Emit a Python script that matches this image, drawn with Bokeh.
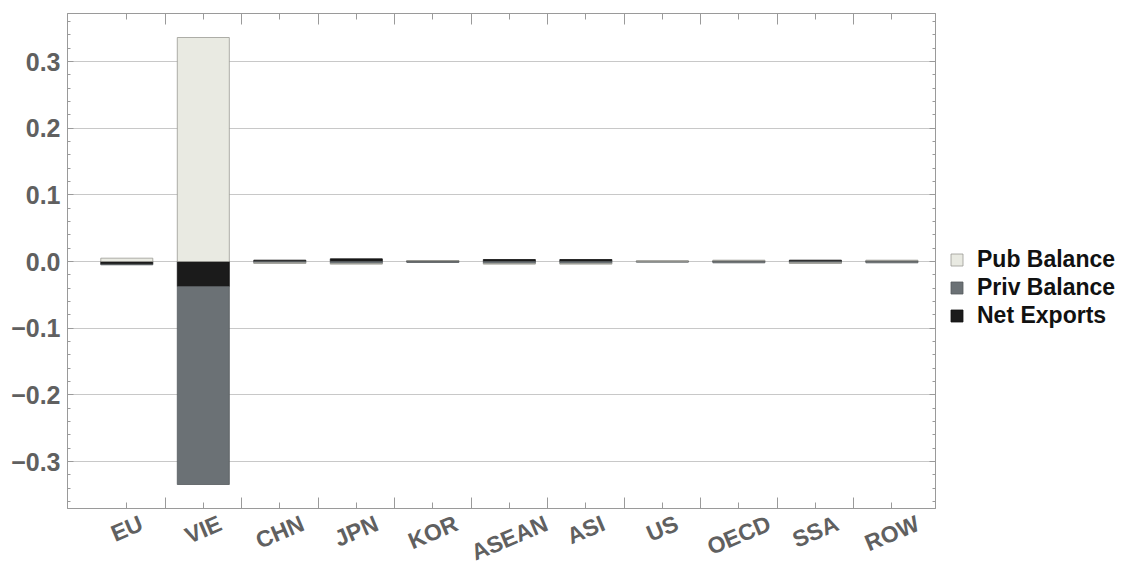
import math
from bokeh.plotting import figure
from bokeh.layouts import row, column
from bokeh.core.properties import value
from bokeh.models import (ColumnDataSource, FixedTicker, LinearAxis, Range1d,
                          CustomJSTickFormatter, Legend, LegendItem, SingleIntervalTicker)
from bokeh.embed import file_html
from bokeh.resources import INLINE

categories = ["EU", "VIE", "CHN", "JPN", "KOR", "ASEAN", "ASI", "US", "OECD", "SSA", "ROW"]
pub_balance = [0.005, 0.336, -0.001, -0.001, 0.0005, -0.001, -0.001, 0.0005, 0.001, -0.001, 0.001]
priv_balance = [-0.001, -0.297, -0.002, -0.003, -0.0015, -0.003, -0.003, -0.001, -0.002, -0.002, -0.002]
net_exports = [-0.004, -0.0375, 0.002, 0.004, 0.001, 0.003, 0.003, 0.0005, 0.001, 0.002, 0.001]

series = [("Net Exports", net_exports, "#1b1b1b", "#111111"),
          ("Priv Balance", priv_balance, "#6b7175", "#555a5d"),
          ("Pub Balance", pub_balance, "#e9eae2", "#9a9a94")]

xs = list(range(len(categories)))

# stacking: positives upward, negatives downward, from zero
pos_base = [0.0] * len(categories)
neg_base = [0.0] * len(categories)
stacks = {}
for name, vals, _, _ in series:
    tops, bottoms = [], []
    for i, v in enumerate(vals):
        if v >= 0:
            bottoms.append(pos_base[i]); tops.append(pos_base[i] + v); pos_base[i] += v
        else:
            tops.append(neg_base[i]); bottoms.append(neg_base[i] + v); neg_base[i] += v
    stacks[name] = (tops, bottoms)

MAIN_W = 940
MAIN_H = 511
STRIP_H = 56
TOTAL_W = 1125
x_range = Range1d(-0.775, 10.57)

p = figure(width=MAIN_W, height=MAIN_H, output_backend="svg", toolbar_location=None,
           x_range=x_range, y_range=Range1d(-0.3705, 0.372),
           min_border_left=67, min_border_right=5, min_border_top=13, min_border_bottom=3)
p.background_fill_color = "white"
p.outline_line_color = "#9a9a9a"
p.outline_line_width = 1

for name, vals, fill, line in series:
    tops, bottoms = stacks[name]
    src = ColumnDataSource(dict(x=xs, top=tops, bottom=bottoms))
    p.vbar(x="x", width=0.68, top="top", bottom="bottom", source=src,
           fill_color=fill, line_color=line, line_width=0.8)

p.xgrid.grid_line_color = None
p.ygrid.grid_line_color = "#c8c8c8"
p.ygrid.grid_line_width = 1

yticker = SingleIntervalTicker(interval=0.1, num_minor_ticks=5)
xticker = FixedTicker(ticks=xs, minor_ticks=[i + 0.5 for i in range(len(categories) - 1)])

fmt = CustomJSTickFormatter(code="""
var v = Math.round(tick*10)/10;
var s = Math.abs(v).toFixed(1);
return (v < 0 ? '\u2212' : '') + s;
""")
blank = CustomJSTickFormatter(code="return '';")

label_color = "#606060"
axis_color = "#9a9a9a"

yax = p.yaxis[0]
yax.ticker = yticker
yax.formatter = fmt
yax.axis_line_color = axis_color
yax.major_tick_line_color = axis_color
yax.minor_tick_line_color = axis_color
yax.major_tick_in = 6
yax.major_tick_out = 0
yax.minor_tick_in = 3
yax.minor_tick_out = 0
yax.major_label_text_font = "Liberation Sans"
yax.major_label_text_font_style = "bold"
yax.major_label_text_font_size = "25px"
yax.major_label_text_color = label_color
yax.major_label_standoff = 7

xax = p.xaxis[0]
xax.ticker = xticker
xax.formatter = blank
xax.axis_line_color = axis_color
xax.major_tick_line_color = axis_color
xax.minor_tick_line_color = axis_color
xax.major_tick_in = 6
xax.major_tick_out = 0
xax.minor_tick_in = 11
xax.minor_tick_out = 0
xax.major_label_standoff = 0

top_ax = LinearAxis(ticker=xticker, formatter=blank,
                    axis_line_color=axis_color, major_tick_line_color=axis_color,
                    minor_tick_line_color=axis_color, major_tick_in=6, major_tick_out=0,
                    minor_tick_in=11, minor_tick_out=0, major_label_standoff=0)
p.add_layout(top_ax, "above")
right_ax = LinearAxis(ticker=yticker, formatter=blank,
                      axis_line_color=axis_color, major_tick_line_color=axis_color,
                      minor_tick_line_color=axis_color, major_tick_in=6, major_tick_out=0,
                      minor_tick_in=3, minor_tick_out=0, major_label_standoff=0)
p.add_layout(right_ax, "right")

# category labels strip (shares the x scale), rotated, bounding box top-centred under tick
LABEL_PX = 23
ANGLE = 0.40
char_w = {"A": .722, "C": .722, "D": .722, "E": .667, "H": .722, "I": .278, "J": .556,
          "K": .722, "N": .722, "O": .778, "P": .667, "R": .722, "S": .667, "U": .722,
          "V": .667, "W": .944}
widths = [sum(char_w.get(ch, .7) for ch in c) * LABEL_PX for c in categories]
cap_h = 0.72 * LABEL_PX
y_off = [3 + (w * math.sin(ANGLE) + cap_h * math.cos(ANGLE)) / 2 for w in widths]

strip = figure(width=MAIN_W, height=STRIP_H, output_backend="svg", toolbar_location=None,
               x_range=x_range, y_range=Range1d(0, 1),
               min_border_left=67, min_border_right=5, min_border_top=0, min_border_bottom=0,
               x_axis_location=None, y_axis_location=None)
strip.outline_line_color = None
strip.xgrid.grid_line_color = None
strip.ygrid.grid_line_color = None
lab_src = ColumnDataSource(dict(x=xs, y=[1] * len(xs), text=categories, yo=y_off))
strip.text(x="x", y="y", text="text", source=lab_src, y_offset="yo", angle=ANGLE,
           text_align="center", text_baseline="middle", text_font=value("Liberation Sans"),
           text_font_style="bold", text_font_size=value(f"{LABEL_PX}px"), text_color=label_color)

# legend panel
LEG_W = TOTAL_W - MAIN_W
LEG_H = MAIN_H + STRIP_H
lf = figure(width=LEG_W, height=LEG_H, output_backend="svg", toolbar_location=None,
            x_range=Range1d(0, 1), y_range=Range1d(0, 1),
            min_border_left=0, min_border_right=0, min_border_top=0, min_border_bottom=0,
            x_axis_location=None, y_axis_location=None)
lf.outline_line_color = None
lf.xgrid.grid_line_color = None
lf.ygrid.grid_line_color = None
leg_items = []
for name, vals, fill, line in reversed(series):
    # legend proxy: a zero-height bar outside the visible range of this panel
    r = lf.vbar(x="x", width=0.5, top="top", bottom="bottom",
                source=ColumnDataSource(dict(x=[5], top=[0], bottom=[0])),
                fill_color=fill, line_color=line, line_width=0.8)
    leg_items.append(LegendItem(label=name, renderers=[r], index=0))

legend = Legend(items=leg_items, location=(9, 238))
legend.border_line_color = None
legend.background_fill_alpha = 0
legend.label_text_font = "Liberation Sans"
legend.label_text_font_style = "bold"
legend.label_text_font_size = "23px"
legend.label_text_color = "#111111"
legend.glyph_width = 15
legend.glyph_height = 15
legend.label_height = 28
legend.spacing = 0
legend.padding = 4
legend.margin = 0
legend.label_standoff = 13
lf.add_layout(legend, "center")

layout = row(column(p, strip), lf)
open("out.html", "w").write(file_html(layout, INLINE))
